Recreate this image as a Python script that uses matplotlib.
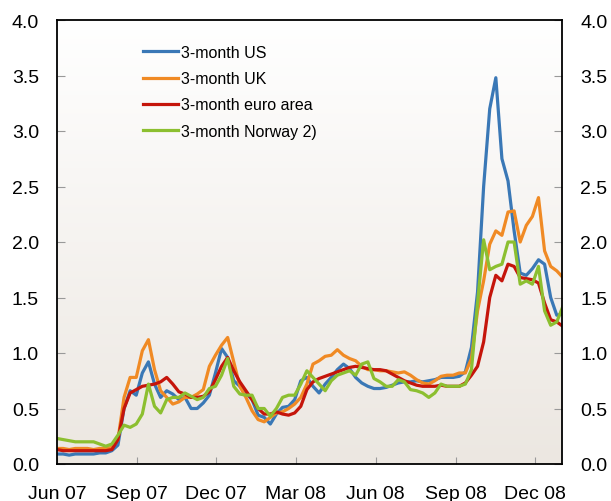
import matplotlib
matplotlib.use("Agg")
import matplotlib.pyplot as plt
import matplotlib.dates as mdates
import numpy as np
import pandas as pd

# ---- data (weekly) ----
dates = pd.date_range("2007-06-01", periods=84, freq="7D")

us = [0.09, 0.09, 0.08, 0.09, 0.09, 0.09, 0.09, 0.10, 0.10, 0.12,
      0.17, 0.50, 0.66, 0.62, 0.82, 0.92, 0.72, 0.60, 0.66, 0.63,
      0.58, 0.60, 0.50, 0.50, 0.55, 0.62, 0.82, 1.04, 0.96, 0.75,
      0.70, 0.64, 0.58, 0.44, 0.42, 0.36, 0.45, 0.51, 0.52, 0.58,
      0.75, 0.78, 0.70, 0.64, 0.72, 0.78, 0.85, 0.90, 0.86, 0.78,
      0.73, 0.70, 0.68, 0.68, 0.69, 0.71, 0.73, 0.74, 0.74, 0.75,
      0.74, 0.75, 0.76, 0.78, 0.78, 0.78, 0.79, 0.83, 1.05, 1.55,
      2.50, 3.20, 3.48, 2.75, 2.55, 2.10, 1.72, 1.70, 1.76, 1.84,
      1.80, 1.50, 1.34, 1.35]

uk = [0.14, 0.14, 0.13, 0.14, 0.14, 0.14, 0.13, 0.14, 0.14, 0.15,
      0.22, 0.60, 0.78, 0.78, 1.02, 1.12, 0.85, 0.66, 0.60, 0.54,
      0.56, 0.60, 0.60, 0.63, 0.67, 0.88, 0.98, 1.07, 1.14, 0.92,
      0.70, 0.60, 0.48, 0.40, 0.38, 0.42, 0.46, 0.47, 0.50, 0.54,
      0.60, 0.72, 0.90, 0.93, 0.97, 0.98, 1.03, 0.98, 0.95, 0.93,
      0.88, 0.85, 0.85, 0.84, 0.84, 0.83, 0.82, 0.83, 0.80, 0.76,
      0.73, 0.72, 0.75, 0.79, 0.80, 0.80, 0.82, 0.82, 0.95, 1.38,
      1.65, 1.98, 2.10, 2.06, 2.27, 2.28, 2.00, 2.15, 2.23, 2.40,
      1.92, 1.78, 1.74, 1.68]

euro = [0.13, 0.12, 0.12, 0.12, 0.12, 0.12, 0.12, 0.12, 0.12, 0.13,
        0.22, 0.50, 0.64, 0.67, 0.70, 0.71, 0.72, 0.74, 0.78, 0.72,
        0.65, 0.63, 0.60, 0.60, 0.61, 0.65, 0.76, 0.88, 0.96, 0.84,
        0.74, 0.66, 0.58, 0.50, 0.45, 0.45, 0.47, 0.45, 0.44, 0.46,
        0.52, 0.67, 0.74, 0.77, 0.79, 0.81, 0.83, 0.85, 0.87, 0.88,
        0.87, 0.86, 0.85, 0.85, 0.84, 0.81, 0.78, 0.75, 0.73, 0.71,
        0.70, 0.70, 0.70, 0.71, 0.70, 0.70, 0.70, 0.73, 0.80, 0.88,
        1.10, 1.50, 1.70, 1.65, 1.80, 1.78, 1.68, 1.67, 1.66, 1.63,
        1.45, 1.30, 1.28, 1.24]

norway = [0.23, 0.22, 0.21, 0.20, 0.20, 0.20, 0.20, 0.18, 0.16, 0.18,
          0.26, 0.35, 0.33, 0.36, 0.45, 0.72, 0.52, 0.46, 0.58, 0.60,
          0.60, 0.64, 0.61, 0.58, 0.60, 0.68, 0.70, 0.80, 0.95, 0.70,
          0.63, 0.62, 0.62, 0.50, 0.50, 0.43, 0.50, 0.60, 0.62, 0.62,
          0.72, 0.84, 0.78, 0.72, 0.66, 0.75, 0.80, 0.82, 0.84, 0.80,
          0.90, 0.92, 0.77, 0.74, 0.70, 0.70, 0.76, 0.74, 0.67, 0.66,
          0.64, 0.60, 0.64, 0.72, 0.70, 0.70, 0.70, 0.72, 0.85, 1.45,
          2.02, 1.75, 1.78, 1.80, 2.00, 2.00, 1.62, 1.65, 1.62, 1.78,
          1.38, 1.25, 1.28, 1.42]

labels = ["3-month US", "3-month UK", "3-month euro area", "3-month Norway 2)"]
colors = ["#3a78b6", "#f08a24", "#c5150b", "#8cbf30"]
series = [us, uk, euro, norway]

tick_dates = ["2007-06-01", "2007-09-01", "2007-12-01", "2008-03-01",
              "2008-06-01", "2008-09-01", "2008-12-01"]
tick_labels = ["Jun 07", "Sep 07", "Dec 07", "Mar 08", "Jun 08", "Sep 08", "Dec 08"]
yticks = [0.0, 0.5, 1.0, 1.5, 2.0, 2.5, 3.0, 3.5, 4.0]

# ---- plot ----
plt.rcParams['font.family'] = ['Liberation Sans', 'DejaVu Sans']
fig = plt.figure(figsize=(6.11, 5.02), dpi=100)
ax = fig.add_axes([57/611, 1-465/502, (562-57)/611, (465-21)/502])

x0 = mdates.date2num(pd.Timestamp("2007-06-01"))
x1 = mdates.date2num(pd.Timestamp("2009-01-01"))

# gradient background
grad = np.linspace(0, 1, 256).reshape(-1, 1)
top = np.array([1.0, 1.0, 1.0])
bot = np.array([0xec, 0xe7, 0xe1]) / 255
img = top[None, None, :] * (1 - grad[:, :, None]) + bot[None, None, :] * grad[:, :, None]
ax.imshow(img, extent=[x0, x1, 0, 4], aspect='auto', origin='upper', zorder=0)

for s, c, l in zip(series, colors, labels):
    ax.plot(dates, s, color=c, lw=2.3, label=l, solid_joinstyle='round', zorder=2)

ax.set_xlim(x0, x1)
ax.set_ylim(0, 4)
ax.set_xticks([mdates.date2num(pd.Timestamp(d)) for d in tick_dates])
ax.set_xticklabels(tick_labels)
ax.set_yticks(yticks)
ax.set_yticklabels([f"{v:.1f}" for v in yticks])

ax.tick_params(axis='x', direction='in', length=5, width=0.8, color='#999999',
               labelsize=14, pad=15)
ax.tick_params(axis='y', direction='in', length=6, width=0.8, color='#999999',
               labelsize=14, pad=13, left=True, right=True,
               labelleft=True, labelright=True)
for sp in ax.spines.values():
    sp.set_linewidth(1.3)
    sp.set_color('black')

leg = ax.legend(loc='upper left', bbox_to_anchor=(143/611, 1-46/502),
                bbox_transform=fig.transFigure, frameon=False, fontsize=11.5,
                handlelength=2.2, handletextpad=0.2, labelspacing=0.7,
                borderpad=0, borderaxespad=0)
for h in leg.get_lines():
    h.set_linewidth(2.3)

fig.savefig("out.png", dpi=100)
